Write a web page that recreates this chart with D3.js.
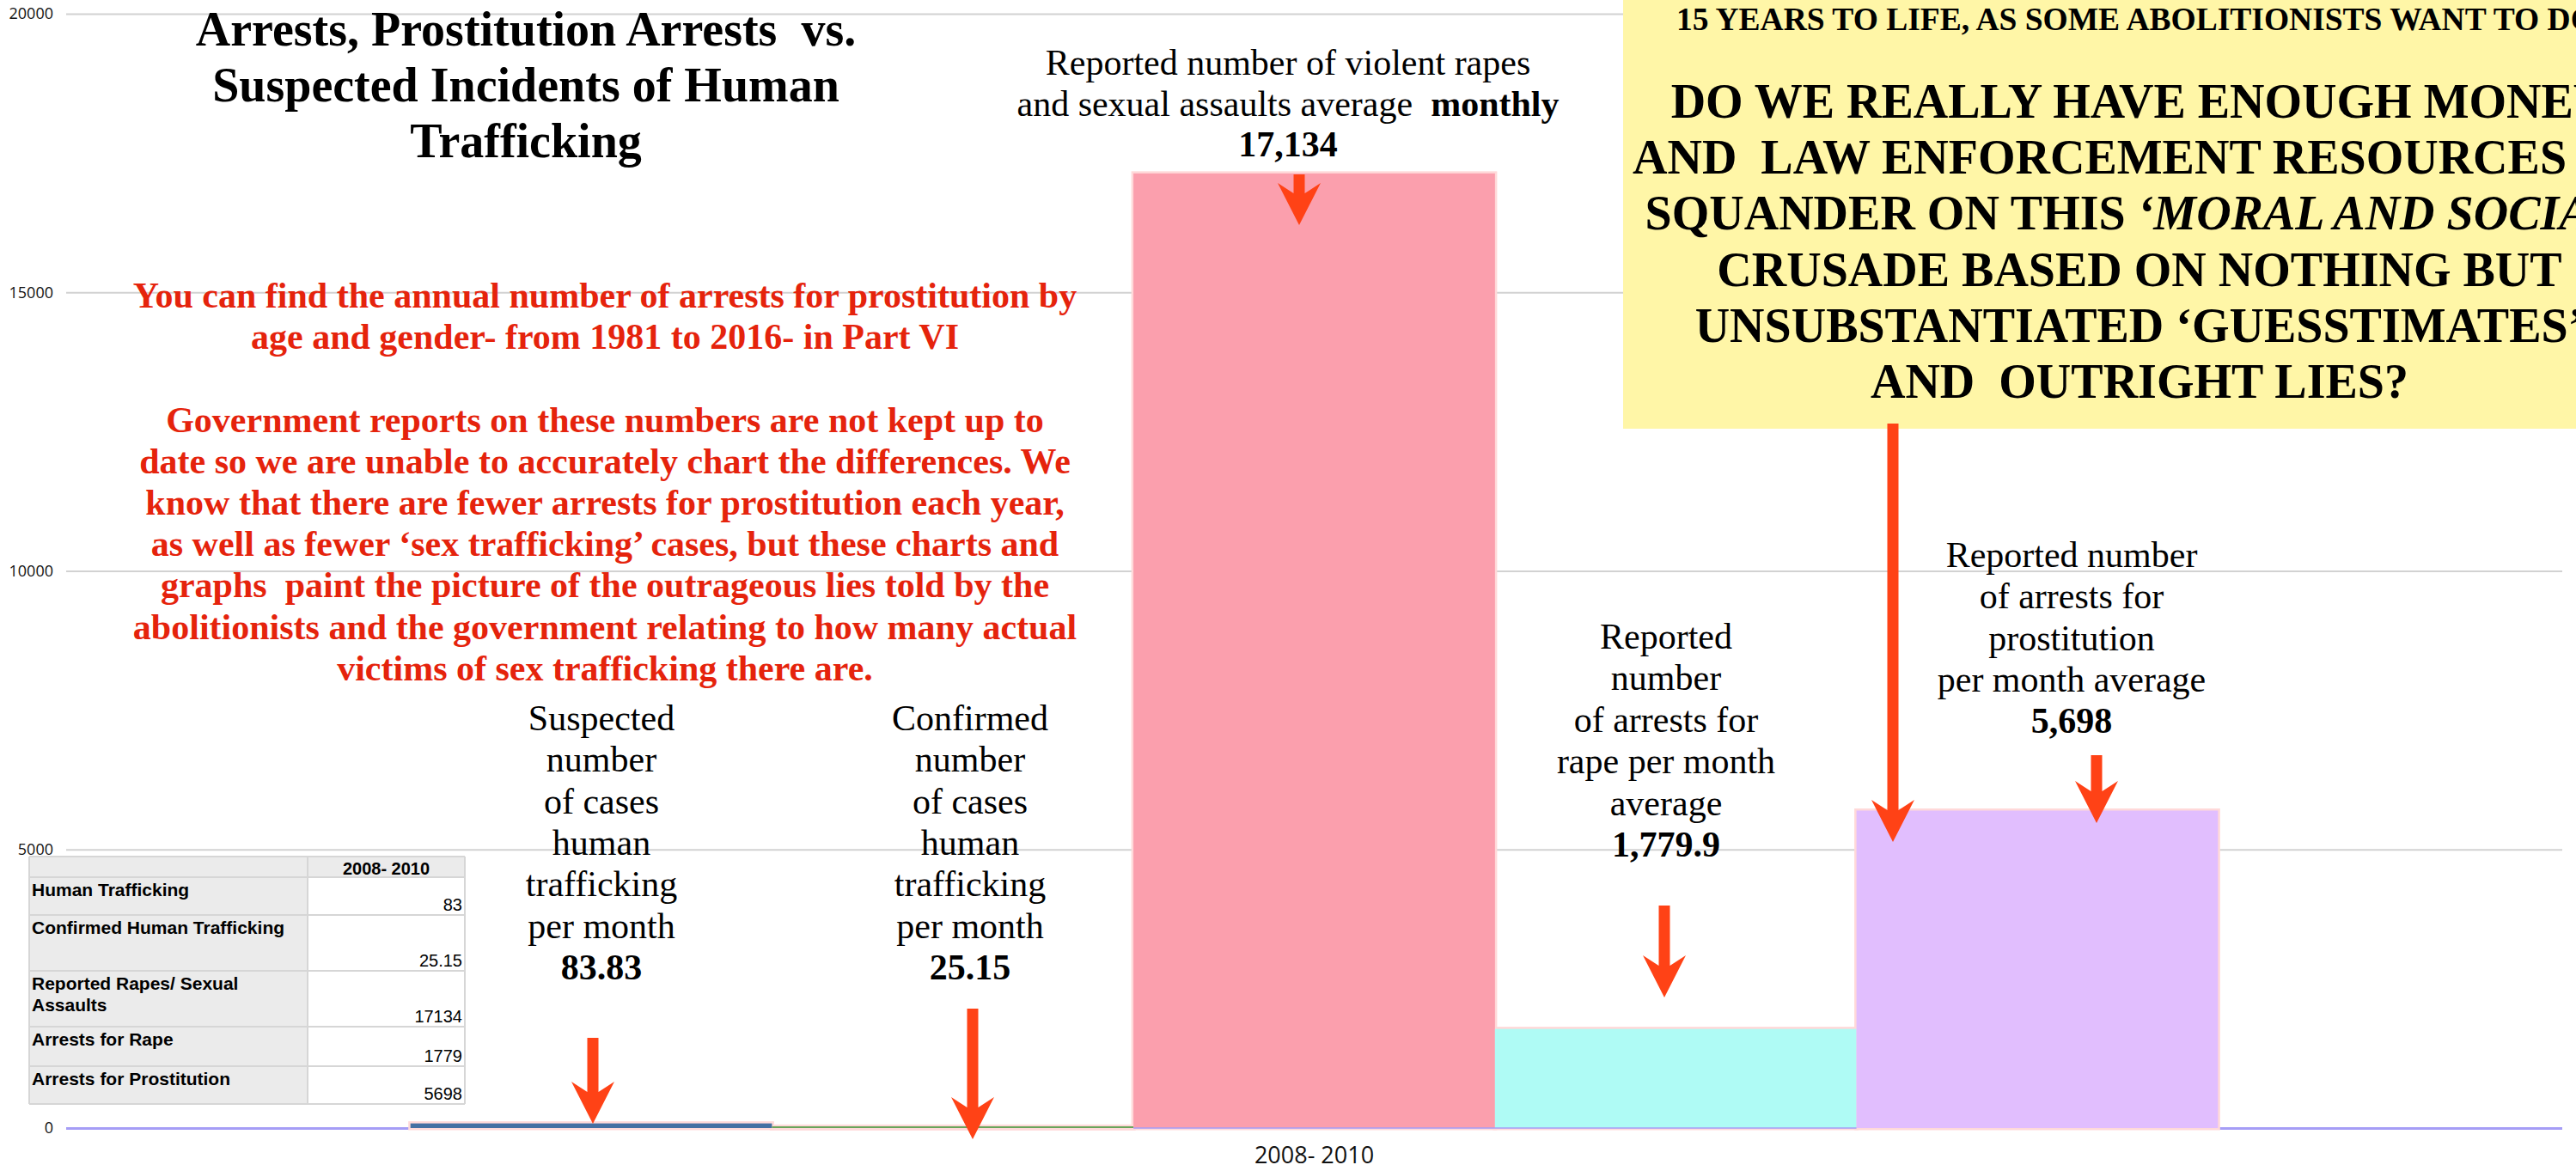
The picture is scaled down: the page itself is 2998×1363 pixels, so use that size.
<!DOCTYPE html>
<html>
<head>
<meta charset="utf-8">
<script src="https://cdn.jsdelivr.net/npm/d3@7"></script>
<style>
  body { margin: 0; background: #fff; }
  text { white-space: pre; }
</style>
</head>
<body>
<svg id="chart" width="2998" height="1363"></svg>
<script>
// data
const categories = ['2008- 2010'];
const seriesNames = ['Human Trafficking', 'Confirmed Human Trafficking', 'Reported Rapes/ Sexual Assaults', 'Arrests for Rape', 'Arrests for Prostitution'];
const seriesValues = [83, 25.15, 17134, 1779, 5698];
const seriesColors = ['#4470a3', '#6aa55a', '#fb9fad', '#affbf5', '#e1befe'];
const yTicks = [0, 5000, 10000, 15000, 20000];

const tableHeader = '2008- 2010';
const tableLabels = [['Human Trafficking'], ['Confirmed Human Trafficking'], ['Reported Rapes/ Sexual', 'Assaults'], ['Arrests for Rape'], ['Arrests for Prostitution']];
const tableValues = ['83', '25.15', '17134', '1779', '5698'];

const titleLines = ['Arrests, Prostitution Arrests  vs.', 'Suspected Incidents of Human', 'Trafficking'];
const noteLines = [
  'You can find the annual number of arrests for prostitution by',
  'age and gender- from 1981 to 2016- in Part VI',
  '',
  'Government reports on these numbers are not kept up to',
  'date so we are unable to accurately chart the differences. We',
  'know that there are fewer arrests for prostitution each year,',
  'as well as fewer \u2018sex trafficking\u2019 cases, but these charts and',
  'graphs  paint the picture of the outrageous lies told by the',
  'abolitionists and the government relating to how many actual',
  'victims of sex trafficking there are.'
];
const boxTopLine = '15 YEARS TO LIFE, AS SOME ABOLITIONISTS WANT TO DO';
const boxLines = [
  [['DO WE REALLY HAVE ENOUGH MONEY', false]],
  [['AND  LAW ENFORCEMENT RESOURCES TO', false]],
  [['SQUANDER ON THIS ', false], ['\u2018MORAL AND SOCIAL\u2019', true]],
  [['CRUSADE BASED ON NOTHING BUT', false]],
  [['UNSUBSTANTIATED \u2018GUESSTIMATES\u2019', false]],
  [['AND  OUTRIGHT LIES?', false]]
];

// bar annotations: plain lines then a bold value
const barNotes = [
  { x: 700, y: 850, gap: 48.3, lines: ['Suspected', 'number', 'of cases', 'human', 'trafficking', 'per month'], value: '83.83' },
  { x: 1129, y: 850, gap: 48.3, lines: ['Confirmed', 'number', 'of cases', 'human', 'trafficking', 'per month'], value: '25.15' },
  { x: 1499, y: 87, gap: 47.5, lines: ['Reported number of violent rapes', 'and sexual assaults average  |monthly'], value: '17,134' },
  { x: 1939, y: 755, gap: 48.4, lines: ['Reported', 'number', 'of arrests for', 'rape per month', 'average'], value: '1,779.9' },
  { x: 2411, y: 660, gap: 48.3, lines: ['Reported number', 'of arrests for', 'prostitution', 'per month average'], value: '5,698' }
];
const arrows = [
  { x: 690, top: 1208, tip: 1308 },
  { x: 1132, top: 1174, tip: 1326 },
  { x: 1512, top: 203, tip: 262 },
  { x: 1937, top: 1054, tip: 1161 },
  { x: 2440, top: 879, tip: 958 },
  { x: 2203, top: 493, tip: 980 }
];

const svg = d3.select('#chart');
const serif = 'Liberation Serif, Times New Roman, serif';
const sans = 'Liberation Sans, Arial, sans-serif';

const plotLeft = 77, plotRight = 2982, plotTop = 16, plotBottom = 1313;

const y = d3.scaleLinear().domain([0, 20000]).range([plotBottom, plotTop]);
const x0 = d3.scaleBand().domain(categories).range([plotLeft, plotRight]).padding(0.16);
const x1 = d3.scaleBand().domain(seriesNames).range([0, x0.bandwidth()]);
const color = d3.scaleOrdinal().domain(seriesNames).range(seriesColors);

// grid + y labels
const yAxis = svg.append('g')
  .attr('transform', `translate(${plotLeft},0)`)
  .call(d3.axisLeft(y).tickValues(yTicks).tickSize(-(plotRight - plotLeft)).tickPadding(15).tickFormat(d3.format('d')));
yAxis.select('.domain').remove();
yAxis.selectAll('line').attr('stroke', '#d2d2d2').attr('stroke-width', 2);
yAxis.selectAll('text').attr('font-family', 'Open Sans, sans-serif').attr('font-size', 18).attr('fill', '#111');
yAxis.selectAll('.tick').filter((d) => d === 0).select('line').attr('stroke', '#a59df6').attr('stroke-width', 3);

// x label
svg.append('g')
  .attr('transform', `translate(0,${plotBottom})`)
  .call(d3.axisBottom(x0).tickSize(0).tickPadding(22))
  .call((g) => g.select('.domain').remove())
  .selectAll('text')
  .attr('font-family', 'Open Sans, sans-serif')
  .attr('font-size', 27)
  .attr('fill', '#111');

// bars
const group = svg.selectAll('.cat').data(categories).enter().append('g')
  .attr('class', 'cat')
  .attr('transform', (d) => `translate(${x0(d)},0)`);

const barData = seriesNames.map((name, i) => ({ name, value: seriesValues[i] }));

group.selectAll('.glow').data(barData).enter().append('rect')
  .attr('class', 'glow')
  .attr('x', (d) => x1(d.name))
  .attr('y', (d) => y(d.value))
  .attr('width', x1.bandwidth())
  .attr('height', (d) => Math.max(2, plotBottom - y(d.value)))
  .attr('fill', 'none')
  .attr('stroke', '#ffd9d9')
  .attr('stroke-width', 5);

group.selectAll('.bar').data(barData).enter().append('rect')
  .attr('class', 'bar')
  .attr('x', (d) => x1(d.name))
  .attr('y', (d) => Math.min(y(d.value), plotBottom - 2))
  .attr('width', x1.bandwidth())
  .attr('height', (d) => Math.max(2, plotBottom - y(d.value)))
  .attr('fill', (d) => color(d.name));

// lavender base line shows through the bottom of the tall bars
svg.append('line')
  .attr('x1', x0(categories[0]) + x1(seriesNames[2])).attr('x2', x0(categories[0]) + x1(seriesNames[4]))
  .attr('y1', plotBottom).attr('y2', plotBottom)
  .attr('stroke', '#a59df6').attr('stroke-width', 1.5);

// data table
const tbl = svg.append('g').attr('transform', 'translate(34,997)');
const colW = [324, 183];
const rowH = [24, 44, 65, 65, 46, 44];
const rowY = rowH.map((h, i) => d3.sum(rowH.slice(0, i)));

tbl.append('rect').attr('width', colW[0] + colW[1]).attr('height', d3.sum(rowH)).attr('fill', '#ebebeb');
tbl.selectAll('.vcell').data(tableValues).enter().append('rect')
  .attr('x', colW[0]).attr('y', (d, i) => rowY[i + 1])
  .attr('width', colW[1]).attr('height', (d, i) => rowH[i + 1])
  .attr('fill', '#fff');
tbl.selectAll('.hline').data(rowY.concat([d3.sum(rowH)])).enter().append('line')
  .attr('x1', 0).attr('x2', colW[0] + colW[1])
  .attr('y1', (d) => d).attr('y2', (d) => d)
  .attr('stroke', '#d6d6d6').attr('stroke-width', 2);
tbl.selectAll('.vline').data([0, colW[0], colW[0] + colW[1]]).enter().append('line')
  .attr('x1', (d) => d).attr('x2', (d) => d)
  .attr('y1', 0).attr('y2', d3.sum(rowH))
  .attr('stroke', '#d6d6d6').attr('stroke-width', 2);
tbl.append('text')
  .attr('x', colW[0] + colW[1] / 2).attr('y', 21)
  .attr('text-anchor', 'middle').attr('font-family', sans).attr('font-weight', 'bold').attr('font-size', 20)
  .text(tableHeader);
tableLabels.forEach((lines, i) => {
  lines.forEach((ln, j) => {
    tbl.append('text')
      .attr('x', 3).attr('y', rowY[i + 1] + 22 + j * 25)
      .attr('font-family', sans).attr('font-weight', 'bold').attr('font-size', 21)
      .text(ln);
  });
  tbl.append('text')
    .attr('x', colW[0] + colW[1] - 3).attr('y', rowY[i + 1] + rowH[i + 1] - 5)
    .attr('text-anchor', 'end').attr('font-family', sans).attr('font-size', 20)
    .text(tableValues[i]);
});

// title
svg.append('g').selectAll('text').data(titleLines).enter().append('text')
  .attr('x', 612).attr('y', (d, i) => 53 + i * 65)
  .attr('text-anchor', 'middle').attr('font-family', serif).attr('font-weight', 'bold').attr('font-size', 56)
  .text((d) => d);

// red note
svg.append('g').selectAll('text').data(noteLines).enter().append('text')
  .attr('x', 704).attr('y', (d, i) => 358 + i * 48.2)
  .attr('text-anchor', 'middle').attr('font-family', serif).attr('font-weight', 'bold').attr('font-size', 42)
  .attr('fill', '#e5230c')
  .text((d) => d);

// yellow box
svg.append('rect').attr('x', 1889).attr('y', 0).attr('width', 1200).attr('height', 499).attr('fill', '#fff6a7');
svg.append('text')
  .attr('x', 1951).attr('y', 35)
  .attr('font-family', serif).attr('font-weight', 'bold').attr('font-size', 37.5)
  .text(boxTopLine);
boxLines.forEach((parts, i) => {
  const t = svg.append('text')
    .attr('x', 2490).attr('y', 137 + i * 65.2)
    .attr('text-anchor', 'middle').attr('font-family', serif).attr('font-weight', 'bold').attr('font-size', 56);
  parts.forEach(([s, it]) => t.append('tspan').attr('font-style', it ? 'italic' : 'normal').text(s));
});

// bar annotations
barNotes.forEach((n) => {
  n.lines.forEach((ln, i) => {
    const t = svg.append('text')
      .attr('x', n.x).attr('y', n.y + i * n.gap)
      .attr('text-anchor', 'middle').attr('font-family', serif).attr('font-size', 42);
    const [plain, bold] = ln.split('|');
    t.append('tspan').text(plain);
    if (bold) t.append('tspan').attr('font-weight', 'bold').text(bold);
  });
  svg.append('text')
    .attr('x', n.x).attr('y', n.y + n.lines.length * n.gap)
    .attr('text-anchor', 'middle').attr('font-family', serif).attr('font-weight', 'bold').attr('font-size', 42)
    .text(n.value);
});

// arrows
const headLen = 49, headW = 50, shaftW = 13;
svg.append('g').selectAll('path').data(arrows).enter().append('path')
  .attr('fill', '#ff4216')
  .attr('d', (a) => {
    const hs = a.tip - headLen;
    return `M${a.x - shaftW / 2},${a.top} L${a.x + shaftW / 2},${a.top} L${a.x + shaftW / 2},${hs + 12}
      L${a.x + headW / 2},${hs} L${a.x},${a.tip} L${a.x - headW / 2},${hs} L${a.x - shaftW / 2},${hs + 12} Z`;
  });
</script>
</body>
</html>
